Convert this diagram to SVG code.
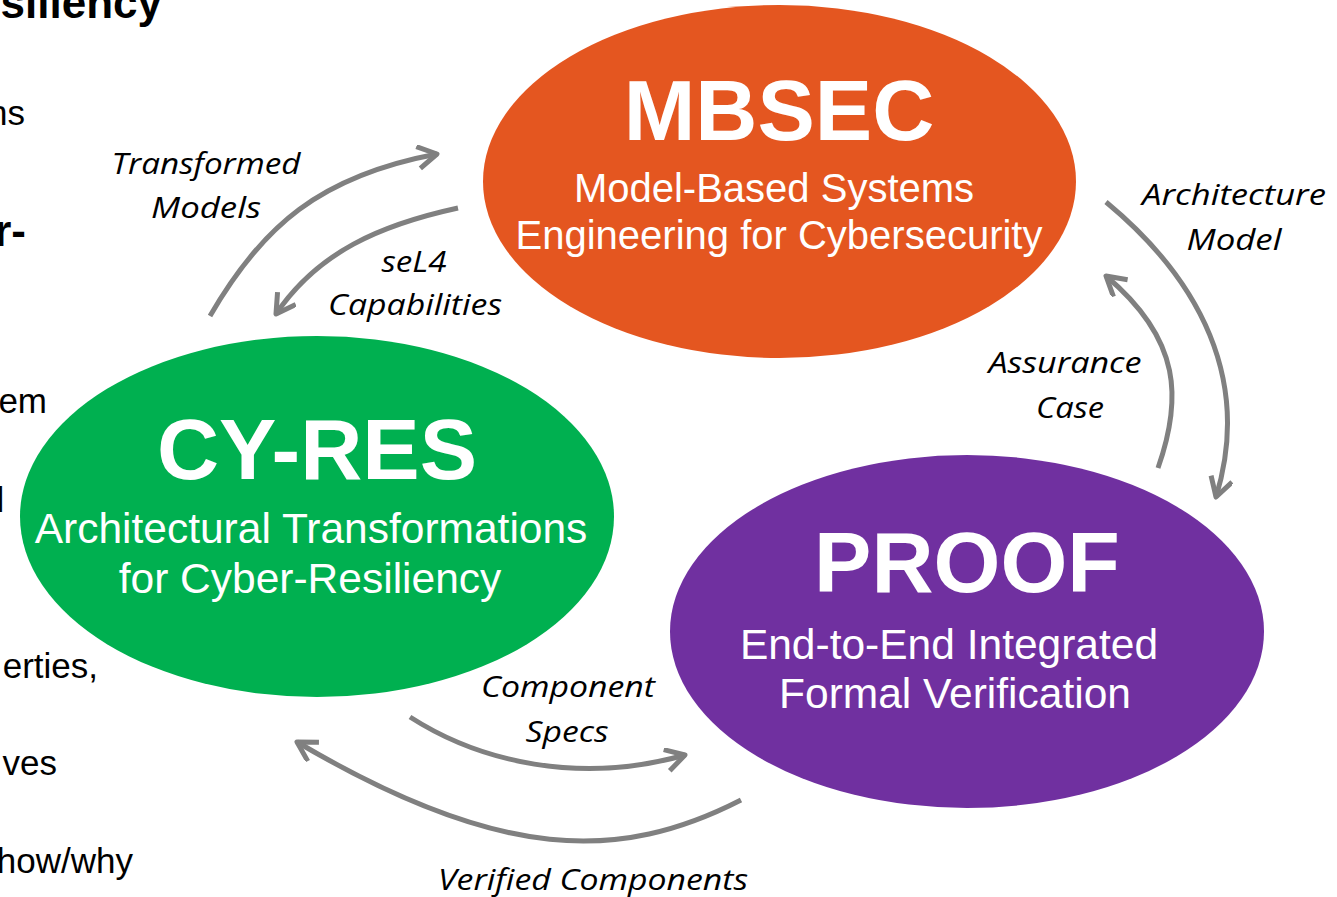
<svg xmlns="http://www.w3.org/2000/svg" width="1337" height="897" viewBox="0 0 1337 897">
<style>
.bg{fill:#ffffff}
.side{font-family:"Liberation Sans",Arial,sans-serif;font-size:35px;fill:#000;text-anchor:end}
.sideb{font-family:"Liberation Sans",Arial,sans-serif;font-size:44px;font-weight:bold;fill:#000;text-anchor:end}
.title{font-family:"Liberation Sans",Arial,sans-serif;font-size:86px;font-weight:bold;fill:#fff;text-anchor:middle}
.sub{font-family:"Liberation Sans",Arial,sans-serif;font-size:40px;fill:#fff;text-anchor:middle}
.subl{font-family:"Liberation Sans",Arial,sans-serif;font-size:42.5px;fill:#fff;text-anchor:middle}
.lbl{font-family:"Open Sans","Noto Sans",sans-serif;font-style:italic;font-size:30px;fill:#000;text-anchor:middle}
.arr{fill:none;stroke:#808080;stroke-width:5;marker-end:url(#ah)}
</style>
<defs>
<marker id="ah" markerUnits="userSpaceOnUse" markerWidth="40" markerHeight="40" refX="21" refY="12" orient="auto">
<path d="M2,1 L21,12 L2,23" fill="none" stroke="#808080" stroke-width="5" stroke-linejoin="round" stroke-linecap="butt"/>
</marker>
</defs>
<rect class="bg" x="0" y="0" width="1337" height="897"/>
<g id="sidetext">
<text class="sideb" x="162" y="18">siliency</text>
<text class="side" x="25" y="125">ns</text>
<text class="sideb" x="26" y="246">r-</text>
<text class="side" x="47" y="413">em</text>
<text class="side" x="-3.5" y="512" style="text-anchor:start">l</text>
<text class="side" x="98" y="678">erties,</text>
<text class="side" x="57" y="775">ves</text>
<text class="side" x="133" y="873">how/why</text>
</g>
<g id="mbsec">
<ellipse cx="779.5" cy="181.5" rx="296.5" ry="176.5" fill="#E45620"/>
<text class="title" x="779" y="140">MBSEC</text>
<text class="sub" x="774" y="202">Model-Based Systems</text>
<text class="sub" x="779" y="249">Engineering for Cybersecurity</text>
</g>
<g id="cyres">
<ellipse cx="317" cy="516.5" rx="297" ry="180.5" fill="#00B050"/>
<text class="title" x="317" y="479">CY-RES</text>
<text class="subl" x="311" y="543">Architectural Transformations</text>
<text class="subl" x="310" y="593">for Cyber-Resiliency</text>
</g>
<g id="proof">
<ellipse cx="967" cy="631.5" rx="297" ry="176.5" fill="#7030A0"/>
<text class="title" x="967" y="592">PROOF</text>
<text class="subl" x="949" y="659">End-to-End Integrated</text>
<text class="subl" x="955" y="708">Formal Verification</text>
</g>
<g id="connectors">
<path class="arr" d="M210,316 C262,226 320,176 437,154"/>
<path class="arr" d="M458,208 C380,225 318,252 276,314"/>
<path class="arr" d="M1106,202 C1200,280 1252,380 1216,497"/>
<path class="arr" d="M1158,468 C1182,400 1182,340 1106,276"/>
<path class="arr" d="M410,717 C480,762 580,785 685,755"/>
<path class="arr" d="M741,800 C620,862 500,862 297,742"/>
</g>
<g id="labels">
<text class="lbl" x="206" y="174" textLength="189" lengthAdjust="spacingAndGlyphs">Transformed</text>
<text class="lbl" x="206" y="218" textLength="110" lengthAdjust="spacingAndGlyphs">Models</text>
<text class="lbl" x="414" y="272" textLength="65" lengthAdjust="spacingAndGlyphs">seL4</text>
<text class="lbl" x="415" y="315" textLength="174" lengthAdjust="spacingAndGlyphs">Capabilities</text>
<text class="lbl" x="1234" y="205" textLength="184" lengthAdjust="spacingAndGlyphs">Architecture</text>
<text class="lbl" x="1234" y="250" textLength="95" lengthAdjust="spacingAndGlyphs">Model</text>
<text class="lbl" x="1065" y="373" textLength="153" lengthAdjust="spacingAndGlyphs">Assurance</text>
<text class="lbl" x="1070" y="418" textLength="68" lengthAdjust="spacingAndGlyphs">Case</text>
<text class="lbl" x="568" y="697" textLength="174" lengthAdjust="spacingAndGlyphs">Component</text>
<text class="lbl" x="567" y="742" textLength="83" lengthAdjust="spacingAndGlyphs">Specs</text>
<text class="lbl" x="593" y="890" textLength="310" lengthAdjust="spacingAndGlyphs">Verified Components</text>
</g>
</svg>
